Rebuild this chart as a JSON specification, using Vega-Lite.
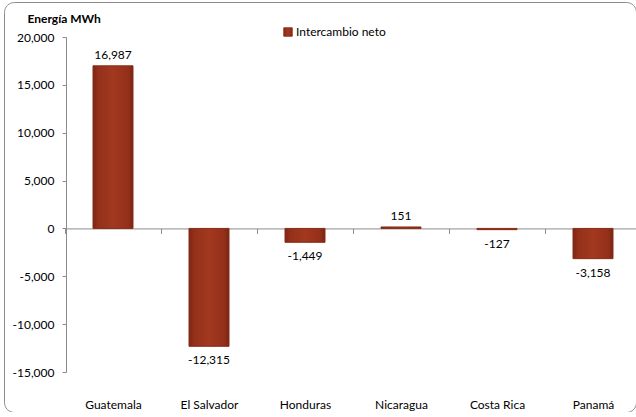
{
  "$schema": "https://vega.github.io/schema/vega-lite/v6.json",
  "autosize": {"type": "none"},
  "padding": {"left": 4, "top": 2, "right": 0, "bottom": 0},
  "width": 632,
  "height": 410,
  "background": "white",
  "config": {
    "font": "Lato",
    "view": {"stroke": "#8c8c8c", "strokeWidth": 1, "cornerRadius": 10},
    "axis": {"labelFont": "Lato", "labelFontSize": 12, "labelColor": "#000000", "titleFont": "Lato"}
  },
  "data": {
    "values": [
      {"pais": "Guatemala", "valor": 16987, "serie": "Intercambio neto"},
      {"pais": "El Salvador", "valor": -12315, "serie": "Intercambio neto"},
      {"pais": "Honduras", "valor": -1449, "serie": "Intercambio neto"},
      {"pais": "Nicaragua", "valor": 151, "serie": "Intercambio neto"},
      {"pais": "Costa Rica", "valor": -127, "serie": "Intercambio neto"},
      {"pais": "Panamá", "valor": -3158, "serie": "Intercambio neto"}
    ]
  },
  "encoding": {
    "x": {
      "field": "pais", "type": "nominal", "sort": null,
      "scale": {"range": [61, 637], "paddingInner": 0, "paddingOuter": 0},
      "axis": {
        "title": null, "orient": "bottom", "offset": -183.57,
        "labelAngle": 0, "labelPadding": 166, "tickBand": "extent",
        "tickSize": 5, "tickColor": "#8c8c8c", "domainColor": "#8c8c8c",
        "labelBaseline": "top"
      }
    },
    "y": {
      "field": "valor", "type": "quantitative",
      "scale": {"domain": [-15000, 20000], "range": [370, 35], "nice": false, "zero": false},
      "axis": {
        "title": "Energía MWh", "titleAngle": 0, "titleAlign": "left", "titleBaseline": "alphabetic",
        "titleX": -39, "titleY": 20, "titleFontSize": 12, "titleFontWeight": "bold", "titleColor": "#000000",
        "offset": -62, "values": [-15000, -10000, -5000, 0, 5000, 10000, 15000, 20000],
        "format": ",d", "labelExpr": "replace(datum.label, '\u2212', '-')",
        "grid": false, "tickSize": 4, "labelPadding": 8,
        "tickColor": "#8c8c8c", "domainColor": "#8c8c8c"
      }
    }
  },
  "layer": [
    {
      "mark": {
        "type": "bar", "size": 40, "strokeWidth": 1,
        "fill": {
          "gradient": "linear", "x1": 0, "x2": 1, "y1": 0, "y2": 0,
          "stops": [
            {"offset": 0, "color": "#7a2412"},
            {"offset": 0.12, "color": "#93301a"},
            {"offset": 0.5, "color": "#a2381f"},
            {"offset": 0.88, "color": "#93301a"},
            {"offset": 1, "color": "#7a2412"}
          ]
        }
      },
      "encoding": {
        "y2": {"datum": 0},
        "stroke": {
          "field": "serie", "type": "nominal",
          "scale": {"range": ["#8a2c16"]},
          "legend": {
            "title": null, "orient": "none", "legendX": 278, "legendY": 24,
            "symbolType": "square", "symbolSize": 70, "symbolFillColor": "#a2381f",
            "symbolStrokeWidth": 1, "labelFontSize": 12, "labelFont": "Lato",
            "labelColor": "#000000", "labelOffset": 2
          }
        }
      }
    },
    {
      "transform": [
        {"filter": "datum.valor >= 0"},
        {"calculate": "replace(format(datum.valor, ',d'), '\u2212', '-')", "as": "etiqueta"}
      ],
      "mark": {"type": "text", "fontSize": 12, "dy": -11, "baseline": "middle", "color": "#000000"},
      "encoding": {"text": {"field": "etiqueta", "type": "nominal"}}
    },
    {
      "transform": [
        {"filter": "datum.valor < 0"},
        {"calculate": "replace(format(datum.valor, ',d'), '\u2212', '-')", "as": "etiqueta"}
      ],
      "mark": {"type": "text", "fontSize": 12, "dy": 14, "baseline": "middle", "color": "#000000"},
      "encoding": {"text": {"field": "etiqueta", "type": "nominal"}}
    }
  ]
}
